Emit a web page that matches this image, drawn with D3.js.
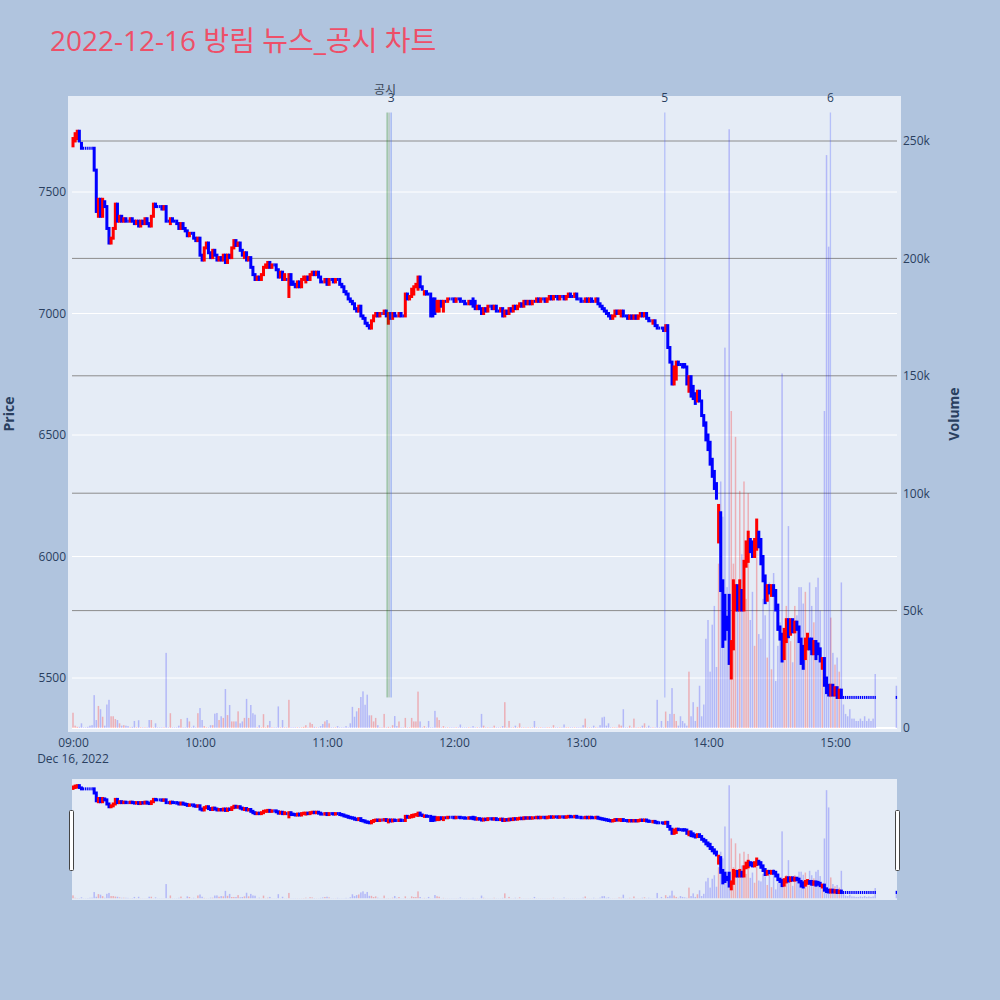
<!DOCTYPE html>
<html><head><meta charset="utf-8">
<script src="https://cdn.jsdelivr.net/npm/d3@7"></script>
<style>body{margin:0;background:#b0c4de}svg{display:block;font-family:"Open Sans","Noto Sans CJK KR",sans-serif}</style>
</head><body><svg id="c" width="1000" height="1000"></svg>
<script>
// ---------------- DATA ----------------
const chartTitle = "2022-12-16 방림 뉴스_공시 차트";
const sessionStart = [2022, 11, 16, 9, 0]; // 1-minute candles from 09:00 to 15:19, one per minute
const opens = [
7690,7710,7720,7750,7700,7680,7680,7680,7680,7680,
7680,7590,7400,7470,7400,7460,7440,7350,7290,7310,
7350,7450,7380,7400,7380,7390,7380,7380,7390,7380,
7370,7380,7360,7380,7370,7390,7370,7360,7400,7450,
7440,7440,7440,7430,7440,7380,7370,7390,7380,7380,
7370,7350,7370,7350,7340,7320,7330,7330,7310,7300,
7310,7240,7220,7270,7290,7250,7230,7260,7240,7220,
7230,7220,7240,7210,7240,7230,7270,7300,7280,7290,
7260,7230,7250,7220,7230,7190,7160,7140,7150,7140,
7160,7190,7190,7210,7190,7200,7200,7180,7150,7170,
7140,7140,7070,7160,7130,7120,7110,7130,7110,7140,
7130,7150,7140,7160,7170,7160,7170,7150,7130,7130,
7140,7120,7140,7140,7130,7140,7140,7120,7110,7090,
7080,7060,7050,7040,7020,7010,7030,6990,6980,6960,
6950,6940,6970,6990,7000,6990,7000,7000,7010,6960,
7000,6980,7000,6990,6990,7000,6990,6990,7080,7060,
7070,7080,7110,7100,7150,7110,7080,7090,7080,7080,
7060,7060,7010,7010,7050,7010,7050,7050,7060,7060,
7060,7050,7060,7060,7050,7050,7040,7040,7050,7060,
7050,7020,7030,7020,7000,7020,7010,7030,7030,7020,
7030,7010,7010,7020,6990,7010,7000,7020,7010,7030,
7020,7030,7040,7030,7050,7040,7050,7040,7050,7050,
7060,7050,7060,7060,7050,7060,7070,7060,7070,7070,
7060,7070,7070,7060,7070,7080,7070,7070,7080,7060,
7060,7050,7050,7060,7050,7060,7050,7050,7060,7040,
7030,7020,7010,7000,6990,6980,6990,7010,7000,6990,
7010,6990,6990,6980,6990,6980,6990,6980,6990,7000,
6990,7000,6980,6970,6960,6970,6950,6940,6940,6940,
6930,6950,6860,6800,6710,6730,6800,6790,6790,6790,
6780,6680,6740,6700,6670,6640,6680,6640,6580,6550,
6500,6470,6400,6350,6300,6060,6180,5900,5840,5750,
5840,5500,5620,5780,5880,5780,5860,5780,5960,5980,
6070,6060,6000,6030,6100,6070,6000,5920,5820,5880,
5840,5880,5860,5800,5710,5680,5580,5650,5740,5680,
5740,5690,5730,5710,5660,5630,5580,5620,5660,5660,
5600,5650,5640,5620,5540,5580,5500,5470,5430,5470,
5430,5460,5420,5450,5420,5420,5420,5420,5420,5420,
5420,5420,5420,5420,5420,5420,5420,5420,5420,5420
];
const closes = [
7720,7740,7750,7710,7680,7680,7680,7680,7680,7680,
7590,7420,7470,7400,7470,7440,7350,7290,7310,7350,
7450,7380,7400,7380,7390,7380,7380,7390,7380,7370,
7380,7360,7380,7370,7390,7370,7360,7400,7450,7440,
7440,7440,7430,7440,7380,7380,7390,7380,7380,7370,
7350,7370,7350,7340,7320,7330,7330,7310,7300,7310,
7240,7220,7270,7290,7250,7230,7260,7240,7220,7230,
7220,7240,7210,7240,7230,7270,7300,7280,7290,7260,
7240,7250,7220,7230,7190,7160,7140,7150,7140,7160,
7190,7200,7210,7190,7200,7200,7180,7150,7170,7140,
7160,7140,7160,7120,7120,7110,7130,7110,7140,7150,
7150,7140,7160,7170,7160,7170,7150,7130,7130,7140,
7120,7140,7140,7130,7140,7140,7120,7110,7090,7080,
7060,7050,7040,7020,7010,7030,6990,6980,6960,6950,
6940,6970,6990,7000,6990,7000,7000,7010,6990,7000,
6980,7000,6990,6990,7000,6990,6990,7080,7060,7070,
7100,7110,7120,7150,7110,7100,7090,7080,7080,6990,
6990,7000,7050,7050,7030,7050,7050,7060,7060,7060,
7050,7060,7060,7050,7050,7040,7040,7050,7040,7030,
7020,7030,7020,7000,7020,7010,7030,7030,7020,7030,
7010,7010,7020,6990,7010,7000,7020,7010,7030,7020,
7030,7040,7030,7050,7040,7050,7040,7050,7050,7060,
7050,7060,7060,7050,7060,7070,7060,7070,7070,7060,
7070,7070,7060,7070,7080,7070,7070,7080,7060,7060,
7050,7050,7060,7050,7060,7050,7050,7060,7040,7030,
7020,7010,7000,6990,6980,6990,7010,7000,7010,7010,
6990,6990,6980,6990,6980,6990,6980,6990,7000,6990,
7000,6980,6970,6970,6970,6950,6940,6940,6940,6930,
6950,6860,6800,6710,6780,6800,6790,6790,6780,6780,
6710,6740,6660,6650,6630,6680,6640,6580,6540,6480,
6440,6380,6330,6280,6240,6210,5860,5630,5660,5700,
5560,5650,5900,5880,5780,5900,5780,5980,6060,6100,
6020,6000,6070,6150,6040,5970,5900,5810,5880,5850,
5880,5840,5780,5700,5660,5570,5700,5740,5670,5740,
5690,5730,5700,5650,5560,5540,5660,5680,5620,5600,
5650,5580,5600,5570,5580,5470,5440,5430,5470,5430,
5460,5420,5450,5420,5420,5420,5420,5420,5420,5420,
5420,5420,5420,5420,5420,5420,5420,5420,5420,5420
];
const volumesK = [
6.5,1,0.5,0.5,2,0.3,0.3,0.5,1,1.2,
14,3.4,9.4,8,4.8,1,10,12,5,5,
3.8,3.4,2,1,1.2,1,0.8,0.3,0.5,3,
0.3,3.3,0.3,0.3,0.3,0.3,3.4,3.4,0.3,2,
0.3,0.3,0.3,0.3,32,0.3,6.3,0.3,0.3,0.3,
1,3.8,0.3,0.3,4.3,2.8,0.3,1,0.3,6.3,
8.5,3.4,0.8,0.3,0.3,1.2,1.2,6.1,6.4,3.4,
5,4.3,16.6,5.5,9.8,2.8,2.8,2.8,7.1,2,
2.8,4.3,12.4,4.3,9.8,6.3,5.7,0.3,1.2,0.3,
5.9,0.3,1.2,3,0.3,0.3,0.3,9.2,0.3,3.4,
0.3,0.3,12,0.3,0.3,0.3,0.3,0.3,0.3,0.5,
1.2,0.3,2.3,1.7,0.5,0.3,0.3,0.8,1.7,2.8,
3.4,2,0.3,0.3,0.3,0.8,0.3,0.3,0.3,0.8,
0.3,2,9,4.8,7.1,8.5,13.2,15.6,9.9,14.2,
5.4,5.4,2.8,4.3,1.2,0.3,0.3,6,0.3,0.5,
0.3,1.2,5.1,0.8,2.8,0.3,0.3,4.3,0.3,0.3,
4.3,2.8,2.8,15.5,2.8,0.3,0.8,0.3,3,0.3,
0.3,7.3,4.5,3.4,0.3,0.8,0.3,0.3,0.3,0.3,
0.3,0.3,0.3,1.5,0.3,0.3,0.3,0.3,0.3,0.8,
0.3,0.3,0.3,6,1,0.3,0.3,0.3,0.3,1,
0.3,0.3,0.3,0.8,11,0.3,3,0.3,0.3,1,
0.3,2,0.3,0.3,0.3,0.3,0.3,0.3,3,0.3,
0.3,0.3,0.3,0.3,0.3,0.3,0.3,1.2,0.3,0.3,
0.3,0.3,1.5,0.3,0.3,0.3,0.3,0.3,0.3,0.3,
0.3,1.2,4,0.3,0.3,0.3,1,0.3,0.3,1.2,
4.5,4.8,1,2,0.3,0.3,0.3,0.3,1.5,1,
8,0.3,0.3,1,0.3,4,0.3,0.3,0.3,1,
2,0.3,1,0.3,0.3,0.3,12,0.3,3,0.3,
7,3,6,17,6,3,1,5,3,2,
1,24,5,11,3,9,18,5,10,38,
46,24,44,52,26,70,105,90,162,60,
255,135,70,124,60,101,74,105,55,100,
46,58,35,89,40,38,55,48,30,62,
25,66,20,35,45,151,37,52,86,37,
28,52,48,60,60,53,58,40,62,52,
45,60,64,50,30,135,244,205,47,32,
27,30,24,62,10,6,5,8,4,4,
3,3,4,3,5,3,4,3,4,23
];
// closing-auction candle
const closingTime = [2022, 11, 16, 15, 29];
const closingOpen = 5420, closingClose = 5420, closingVolumeK = 18;

const priceTicks = [5500, 6000, 6500, 7000, 7500];
const volumeTicks = [0, 50, 100, 150, 200, 250];
const markerTimes = ["11:28:24", "11:29:18", "11:30:18", "13:39:35", "14:57:50"];
const markerLabels = ["공시", "", "3", "5", "6"];
const markerPriceSpan = [5420, 7827];

// ---------------- LAYOUT ----------------
const svg = d3.select("#c");
const P = {x0: 68, x1: 901, y0: 96, y1: 732};
const S = {x0: 72, x1: 897, y0: 779, y1: 899};
const txt = "#2a3f5f";
const upC = "#ff0000", dnC = "#0000ff";

const t0 = new Date(...sessionStart);
const candles = opens.map((o, i) => ({t: d3.timeMinute.offset(t0, i), o, c: closes[i], v: volumesK[i]}));
candles.push({t: new Date(...closingTime), o: closingOpen, c: closingClose, v: closingVolumeK});

const x = d3.scaleTime().domain([new Date(2022,11,16,9,0), new Date(2022,11,16,15,0)]).range([73, 835]);
const yP = d3.scaleLinear().domain([5500, 7500]).range([678, 192]);
const yV = d3.scaleLinear().domain([0, 250]).range([728, 141]);
const toS = v => S.y0 + (v - P.y0) * (S.y1 - S.y0) / (P.y1 - P.y0);
const yPs = d3.scaleLinear().domain([5500, 7500]).range([toS(678), toS(192)]);
const yVs = d3.scaleLinear().domain([0, 250]).range([toS(728), toS(141)]);

const defs = svg.append("defs");
defs.append("clipPath").attr("id", "cp").append("rect").attr("x", P.x0).attr("y", P.y0).attr("width", P.x1 - P.x0).attr("height", P.y1 - P.y0);
defs.append("clipPath").attr("id", "cs").append("rect").attr("x", S.x0).attr("y", S.y0).attr("width", S.x1 - S.x0).attr("height", S.y1 - S.y0);

// title
svg.append("text").attr("x", 50).attr("y", 51).attr("font-size", 28).attr("fill", "#ee4f68").text(chartTitle);

// plot bg
svg.append("rect").attr("x", P.x0).attr("y", P.y0).attr("width", P.x1 - P.x0).attr("height", P.y1 - P.y0).attr("fill", "#e5ecf6");

// grids
const g = svg.append("g");
g.selectAll(".pg").data(priceTicks).join("line").attr("x1", 72).attr("x2", 897)
  .attr("y1", d => yP(d)).attr("y2", d => yP(d)).attr("stroke", "#fff").attr("stroke-width", 1);
g.selectAll(".vg").data(volumeTicks.filter(d => d > 0)).join("line").attr("x1", 72).attr("x2", 897)
  .attr("y1", d => yV(d)).attr("y2", d => yV(d)).attr("stroke", "#8c8c8c").attr("stroke-width", 1);
g.append("line").attr("x1", 72).attr("x2", 897).attr("y1", yV(0)).attr("y2", yV(0)).attr("stroke", "#fff").attr("stroke-width", 2);

function drawSeries(parent, yp, yv, clip, bw, pad) {
  const gg = parent.append("g").attr("clip-path", `url(#${clip})`);
  gg.selectAll("rect.v").data(candles).join("rect")
    .attr("x", d => x(d.t) - 0.75).attr("width", 1.5)
    .attr("y", d => yv(d.v)).attr("height", d => yv(0) - yv(d.v))
    .attr("fill", d => d.c > d.o ? upC : dnC).attr("fill-opacity", d => d.c > d.o ? 0.26 : 0.22);
  gg.selectAll("rect.c").data(candles).join("rect")
    .attr("x", d => x(d.t) - (d.o === d.c ? bw[0] : bw[1]) / 2)
    .attr("width", d => d.o === d.c ? bw[0] : bw[1])
    .attr("y", d => Math.min(yp(d.o), yp(d.c)) - pad / 2)
    .attr("height", d => Math.abs(yp(d.o) - yp(d.c)) + pad)
    .attr("fill", d => d.c > d.o ? upC : dnC);
  return gg;
}
drawSeries(svg, yP, yV, "cp", [1.4, 3], 3);

// markers
const parseT = d3.timeParse("%H:%M:%S");
const mT = s => { const p = parseT(s); return new Date(2022, 11, 16, p.getHours(), p.getMinutes(), p.getSeconds()); };
const mColors = ["rgba(0,110,0,0.55)", "rgba(60,110,60,0.5)", "rgba(60,100,235,0.35)", "rgba(70,90,255,0.3)", "rgba(70,90,255,0.3)"];
const mWidths = [0.9, 0.9, 1.6, 1.3, 1.3];
svg.append("g").selectAll("line").data(markerTimes).join("line")
  .attr("x1", d => x(mT(d))).attr("x2", d => x(mT(d)))
  .attr("y1", yP(markerPriceSpan[1])).attr("y2", yP(markerPriceSpan[0]))
  .attr("stroke", (d, i) => mColors[i]).attr("stroke-width", (d, i) => mWidths[i]);
svg.append("g").selectAll("text").data(markerTimes).join("text")
  .attr("x", (d, i) => x(mT(d)) + (i === 0 ? -2 : 0)).attr("y", (d, i) => i === 0 ? 94 : 102)
  .attr("text-anchor", "middle").attr("font-size", 12).attr("fill", (d, i) => i === 0 ? "#3a4555" : txt)
  .text((d, i) => markerLabels[i]);

// axes
const ax = svg.append("g").attr("transform", `translate(${P.x0},0)`)
  .call(d3.axisLeft(yP).tickValues(priceTicks).tickSize(0).tickPadding(2).tickFormat(d3.format("d")));
const axV = svg.append("g").attr("transform", `translate(${P.x1},0)`)
  .call(d3.axisRight(yV).tickValues(volumeTicks).tickSize(0).tickPadding(2).tickFormat(d => d === 0 ? "0" : d + "k"));
const axX = svg.append("g").attr("transform", `translate(0,${P.y1})`)
  .call(d3.axisBottom(x).ticks(d3.timeHour.every(1)).tickSize(0).tickPadding(6).tickFormat(d3.timeFormat("%H:%M")));
[ax, axV, axX].forEach(a => {
  a.select(".domain").remove();
  a.selectAll("text").attr("font-size", 12).attr("fill", txt).attr("font-family", '"Open Sans","Noto Sans CJK KR",sans-serif');
});
svg.append("text").attr("x", x(new Date(2022,11,16,9,0))).attr("y", 763).attr("text-anchor", "middle")
  .attr("font-size", 12).attr("fill", txt).text(d3.timeFormat("%b %-d, %Y")(t0));

svg.append("text").attr("transform", `translate(14,${(P.y0 + P.y1) / 2}) rotate(-90)`).attr("text-anchor", "middle")
  .attr("font-size", 14).attr("font-weight", "bold").attr("fill", txt).text("Price");
svg.append("text").attr("transform", `translate(959,${(P.y0 + P.y1) / 2}) rotate(-90)`).attr("text-anchor", "middle")
  .attr("font-size", 14).attr("font-weight", "bold").attr("fill", txt).text("Volume");

// range slider
svg.append("rect").attr("x", S.x0).attr("y", S.y0).attr("width", S.x1 - S.x0).attr("height", S.y1 - S.y0 + 1).attr("fill", "#e5ecf6");
drawSeries(svg, yPs, yVs, "cs", [1.4, 3], 3);
[S.x0 - 3, S.x1 - 2].forEach(hx => {
  svg.append("rect").attr("x", hx + 0.5).attr("y", 810.5).attr("width", 4).attr("height", 60).attr("rx", 1)
    .attr("fill", "#fff").attr("stroke", "#444").attr("stroke-width", 1);
});
</script></body></html>
